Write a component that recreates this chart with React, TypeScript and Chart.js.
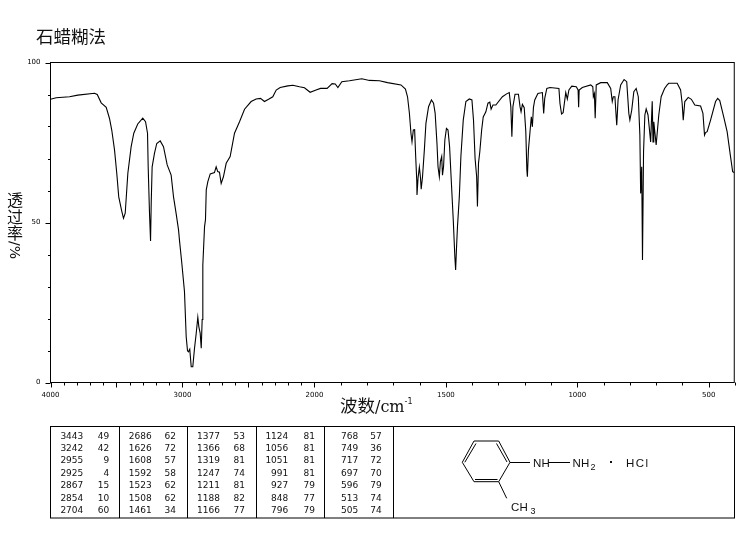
import React, { useEffect, useRef } from "react";
import { Chart, LinearScale, registerables } from "chart.js";

const wavenumbers = [
  4000, 3957, 3856, 3793, 3667, 3646, 3616, 3578, 3553, 3536, 3515, 3498, 3483, 3462, 3447, 3434, 3414, 3389, 3369, 3339, 3301, 3280, 3265, 3260, 3250, 3242, 3237, 3230, 3212, 3195, 3169, 3144, 3116, 3086, 3068, 3049, 3030, 3023, 3005, 2985, 2972, 2962, 2955, 2945, 2934, 2922, 2909, 2896, 2884, 2876, 2866, 2858, 2851, 2846, 2833, 2826, 2820, 2808, 2790, 2758, 2745, 2733, 2720, 2707, 2690, 2669, 2639, 2606, 2568, 2530,
  2480, 2442, 2409, 2379, 2348, 2316, 2290, 2260, 2202, 2164, 2114, 2076, 2033, 1994, 1977, 1952, 1933, 1921, 1911, 1896, 1867, 1820, 1791, 1753, 1722, 1671, 1654, 1646, 1639, 1633, 1629, 1624, 1619, 1615, 1611, 1610, 1606, 1601, 1597, 1594, 1589, 1582, 1576, 1566, 1555, 1547, 1541, 1534, 1530, 1525, 1521, 1516, 1513, 1509, 1504, 1498, 1492, 1486, 1479, 1472, 1466, 1463, 1460, 1456, 1449, 1443, 1434, 1424, 1411, 1401, 1395, 1389, 1383, 1380, 1376, 1371, 1364, 1358, 1348, 1340, 1333, 1328, 1321, 1310, 1285, 1269, 1259, 1253, 1249, 1245, 1237, 1224, 1218, 1214, 1209, 1202, 1196, 1192, 1190, 1186, 1180, 1175, 1171, 1167, 1162, 1150, 1133, 1128, 1124, 1116, 1104, 1070, 1066, 1060, 1054, 1044, 1038, 1032, 1021, 1004, 997, 995, 993, 981, 949, 941, 939, 935, 932, 928, 911, 886, 873, 867, 863, 857, 850, 845, 835, 822, 812, 804, 800, 793, 785, 776, 768, 762, 759, 755, 752, 748, 743, 738, 731, 721, 715, 712, 709, 700, 690, 681, 668, 658, 652, 620, 607, 601, 597, 591, 578, 566, 553, 531, 522, 516, 512, 506, 493, 474, 466, 458, 443, 430, 417, 409, 400,
];
const transmittance = [
  88.5, 89, 89.3, 89.8, 90.4, 90, 87.4, 86, 82.5, 78.9, 72.7, 65.4, 58, 53.9, 51.3, 52.9, 65.4, 73.7, 77.9, 80.8, 82.6, 81.5, 77.9, 67.4, 53, 44.2, 56, 67.4, 71.7, 74.7, 75.5, 73.7, 68, 64.8, 58, 53, 47.7, 44.5, 37.2, 28.4, 14.3, 9.9, 9.6, 10.4, 4.9, 4.9, 10.7, 15.4, 20.4, 17.4, 15.4, 10.7, 19.7, 36.7, 48.7, 50.8, 60.2, 62.8, 65.2, 65.6, 67.4, 65.9, 65.7, 62.2, 64.3, 68.5, 70.6, 77.9, 81.5, 85.4,
  87.8, 88.6, 88.8, 87.8, 88.5, 89.3, 91.4, 92.2, 92.7, 92.9, 92.4, 92.1, 90.7, 91.4, 91.9, 91.9, 93.4, 93.3, 92.2, 94, 94.3, 94.9, 94.4, 94.3, 93.7, 93, 91.7, 89.3, 84.2, 77.9, 75.2, 78.9, 79, 70.6, 63.3, 58.6, 63.9, 67.3, 64.3, 60.4, 64.3, 72.7, 81, 86.2, 88.3, 87.3, 84.2, 74.7, 67.4, 64.3, 69, 70.6, 64.8, 67.4, 75.8, 79.4, 78.9, 73.7, 62.2, 50.8, 39.3, 35.2, 41.4, 48.7, 58, 70.6, 82, 87.8, 88.6, 88.3, 82, 70, 64.3, 55, 68.5, 72.1, 78.9, 83, 84.6, 87.3, 87.6, 85.4, 86.7, 86.7, 89.3, 90.2, 90.6, 86.2, 76.8, 86.2, 90.1, 90.1, 86.2, 84.6, 86.9, 85.9, 78.4, 66.4, 64.3, 72.7, 78.4, 83, 79.9, 85.9, 88.3, 90.3, 90.6, 84.1, 88.8, 91.9, 92.2, 91.9, 87.2, 83.9, 84.3, 90.6, 88.6, 91.4, 92.6, 92.4, 91.4, 86, 91.4, 92.2, 93, 92.4, 89.3, 90.3, 82.6, 93, 93.7, 93.7, 91.9, 87.8, 89.3, 89.3, 80.4, 88.3, 93, 94.7, 94, 84.1, 82, 85.1, 90.9, 91.9, 89.3, 77.3, 59.1, 67.4, 38.3, 72, 83.6, 85.5, 83.6, 75.2, 87.9, 75.2, 81.5, 74.2, 83.6, 89.3, 91.9, 93, 93.5, 93.5, 91.4, 87.2, 82, 87.8, 89.1, 88.5, 86.7, 86.4, 84.1, 77.3, 78.1, 78.4, 82, 87.8, 88.8, 88.1, 83, 78.4, 70.6, 65.9, 65.5,
];

const xLabelled = [4000, 3000, 2000, 1500, 1000, 500];
const yLabelled = [0, 50, 100];
const xAxisMax = 4000;
const xAxisMin = 400;
const xAxisBreak = 2000;
const yTitleChars = ["透", "过", "率"];

const peakColumns = [
  [["3443", "49"], ["3242", "42"], ["2955", "9"], ["2925", "4"], ["2867", "15"], ["2854", "10"], ["2704", "60"]],
  [["2686", "62"], ["1626", "72"], ["1608", "57"], ["1592", "58"], ["1523", "62"], ["1508", "62"], ["1461", "34"]],
  [["1377", "53"], ["1366", "68"], ["1319", "81"], ["1247", "74"], ["1211", "81"], ["1188", "82"], ["1166", "77"]],
  [["1124", "81"], ["1056", "81"], ["1051", "81"], ["991", "81"], ["927", "79"], ["848", "77"], ["796", "79"]],
  [["768", "57"], ["749", "36"], ["717", "72"], ["697", "70"], ["596", "79"], ["513", "74"], ["505", "74"]],
];
const columnRights = [[83.3, 109.3], [151.7, 176], [220, 245], [288.3, 315], [358.3, 381.7]];
const columnLines = [119.5, 187.5, 256.5, 324.5, 393.5];

const BREAK_AT = 0.3861;
const TAIL = 0.615;

class IrAxis extends LinearScale {
  static id = "irAxis";
  static defaults = LinearScale.defaults;
  fraction(v: number) {
    return v >= xAxisBreak
      ? ((xAxisMax - v) / (xAxisMax - xAxisBreak)) * BREAK_AT
      : BREAK_AT + ((xAxisBreak - v) / (xAxisBreak - xAxisMin)) * TAIL;
  }
  getPixelForValue(v: number) {
    return (this as any).left + this.fraction(v) * (this as any).width;
  }
  getValueForPixel(p: number) {
    const f = (p - (this as any).left) / (this as any).width;
    return f <= BREAK_AT
      ? xAxisMax - (f / BREAK_AT) * (xAxisMax - xAxisBreak)
      : xAxisBreak - ((f - BREAK_AT) / TAIL) * (xAxisBreak - xAxisMin);
  }
}

Chart.register(...registerables, IrAxis as any);

const frameAndTicks = {
  id: "frameAndTicks",
  afterDraw(chart: any) {
    const { ctx, chartArea: a, scales } = chart;
    ctx.save();
    ctx.strokeStyle = "#000";
    ctx.lineWidth = 1;
    ctx.strokeRect(a.left, a.top, a.right - a.left, a.bottom - a.top);
    ctx.beginPath();
    for (const t of scales.x.ticks) {
      const p = Math.round(scales.x.getPixelForValue(t.value)) + 0.5;
      ctx.moveTo(p, a.bottom);
      ctx.lineTo(p, a.bottom + (t.value % 500 === 0 ? 5 : 3));
    }
    for (const t of scales.y.ticks) {
      const p = Math.round(scales.y.getPixelForValue(t.value)) + 0.5;
      ctx.moveTo(a.left, p);
      ctx.lineTo(a.left - (t.value % 50 === 0 ? 5 : 2.5), p);
    }
    ctx.stroke();
    ctx.restore();
  },
};

const cjk = '"Noto Sans CJK SC", sans-serif';

export default function App() {
  const ref = useRef<HTMLCanvasElement>(null);
  useEffect(() => {
    const tickFont = { family: "DejaVu Sans", size: 7 };
    const chart = new Chart(ref.current!, {
      type: "line",
      data: {
        datasets: [
          {
            data: wavenumbers.map((x, i) => ({ x, y: transmittance[i] })),
            borderColor: "#000",
            borderWidth: 1.1,
            pointRadius: 0,
            tension: 0,
            fill: false,
          },
        ],
      },
      options: {
        animation: false,
        responsive: false,
        devicePixelRatio: 1,
        layout: { padding: { top: 62.5, right: 7.5, left: 0, bottom: 0 } },
        plugins: { legend: { display: false }, tooltip: { enabled: false } },
        scales: {
          x: {
            type: "irAxis",
            position: "bottom",
            min: xAxisMin,
            max: xAxisMax,
            grid: { display: false, drawTicks: false },
            border: { display: false },
            afterFit: (s: any) => { s.height = 156.5; },
            afterBuildTicks: (s: any) => {
              const list = [];
              for (let v = xAxisMax; v >= xAxisMin; v -= 100) list.push({ value: v });
              s.ticks = list;
            },
            ticks: {
              autoSkip: false,
              maxRotation: 0,
              minRotation: 0,
              padding: 8,
              color: "#000",
              font: tickFont,
              callback: (v: any) => (xLabelled.includes(Number(v)) ? String(v) : ""),
            },
          } as any,
          y: {
            min: 0,
            max: 100,
            grid: { display: false, drawTicks: false },
            border: { display: false },
            afterFit: (s: any) => { s.width = 50.5; },
            ticks: {
              stepSize: 10,
              padding: 10,
              color: "#000",
              font: tickFont,
              callback: (v: any) => (yLabelled.includes(Number(v)) ? String(v) : ""),
            },
          },
        },
      },
      plugins: [frameAndTicks],
    });
    return () => chart.destroy();
  }, []);

  const tableFont = { fontFamily: "DejaVu Sans", fontSize: 9, fill: "#111" };
  const chemFont = { fontFamily: "Liberation Sans", fontSize: 11.5, fill: "#111", letterSpacing: 0.3 };
  const subFont = { fontFamily: "Liberation Sans", fontSize: 9, fill: "#111" };

  return (
    <div style={{ position: "absolute", left: 0, top: 0, width: 743, height: 539, background: "#fff", overflow: "hidden" }}>
      <canvas ref={ref} width={743} height={539} style={{ position: "absolute", left: 0, top: 0, display: "block" }} />
      <div style={{ position: "absolute", left: 36, top: 24, fontFamily: cjk, fontSize: 17.5, lineHeight: "24px", color: "#111", whiteSpace: "nowrap" }}>石蜡糊法</div>
      {yTitleChars.map((ch, i) => (
        <div key={ch} style={{ position: "absolute", left: 7, width: 16, textAlign: "center", top: 190 + i * 16.5, fontFamily: cjk, fontSize: 16, lineHeight: "18px", color: "#111" }}>{ch}</div>
      ))}
      <div style={{ position: "absolute", left: 7, top: 241, width: 16, writingMode: "vertical-rl", textOrientation: "sideways", fontFamily: "DejaVu Sans", fontSize: 14, lineHeight: "16px", color: "#111", whiteSpace: "nowrap" } as any}>/%</div>
      <div style={{ position: "absolute", left: 340, top: 393, fontFamily: cjk, fontSize: 17.5, lineHeight: "24px", color: "#111", whiteSpace: "nowrap" }}>
        波数<span style={{ fontFamily: "DejaVu Serif", fontSize: 16 }}>/cm</span>
        <span style={{ fontFamily: "DejaVu Sans", fontSize: 8, position: "relative", top: -8 }}>-1</span>
      </div>
      <svg width={743} height={539} style={{ position: "absolute", left: 0, top: 0 }}>
        <g stroke="#000" strokeWidth={1} fill="none">
          <rect x={50.5} y={426.5} width={684} height={91.5} />
          {columnLines.map((x) => (
            <line key={x} x1={x} x2={x} y1={426.5} y2={518} />
          ))}
          <polygon points="474,441 498.7,441 510,462.3 498.7,481.7 474,481.7 462.3,462.3" />
          <line x1={476} y1={443.5} x2={464.8} y2={462.3} />
          <line x1={496.5} y1={443.5} x2={507} y2={462} />
          <line x1={475} y1={479.5} x2={497.5} y2={479.5} />
          <line x1={510} y1={462.5} x2={530} y2={462.5} />
          <line x1={548} y1={462.5} x2={570} y2={462.5} />
          <line x1={498.7} y1={481.7} x2={506.7} y2={498.3} />
        </g>
        {peakColumns.map((col, c) =>
          col.map((row, r) => (
            <g key={`${c}-${r}`} style={tableFont as any}>
              <text x={columnRights[c][0]} y={438.5 + r * 12.4} textAnchor="end">{row[0]}</text>
              <text x={columnRights[c][1]} y={438.5 + r * 12.4} textAnchor="end">{row[1]}</text>
            </g>
          ))
        )}
        <text x={533} y={466.5} style={chemFont as any}>NH</text>
        <text x={572.5} y={466.5} style={chemFont as any}>NH</text>
        <text x={590.5} y={469.5} style={subFont as any}>2</text>
        <rect x={610} y={461} width={2} height={2} fill="#111" />
        <text x={626} y={466.5} style={{ ...chemFont, letterSpacing: 1.5 } as any}>HCl</text>
        <text x={511} y={511} style={chemFont as any}>CH</text>
        <text x={530.5} y={513.5} style={subFont as any}>3</text>
      </svg>
    </div>
  );
}
